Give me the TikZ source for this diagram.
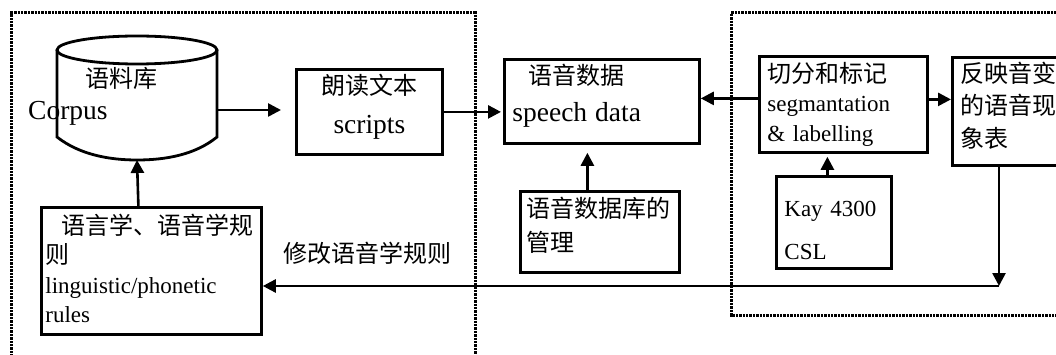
\documentclass[tikz,border=0pt]{standalone}
\usepackage{fontspec}
\setmainfont{Liberation Serif}
\newfontfamily\cjk{Noto Sans CJK SC}
\usetikzlibrary{arrows.meta}
\newcommand{\zh}{\cjk\fontsize{24}{32}\selectfont}
\newcommand{\enbig}{\fontsize{27.5}{33}\selectfont}
\newcommand{\ensmall}{\fontsize{23}{30}\selectfont}
\newcommand{\up}[1]{\rule{0pt}{#1pt}}
\newcommand{\down}[1]{\rule[-#1pt]{0pt}{0pt}}

\begin{document}
\begin{tikzpicture}[x=1pt,y=-1pt,
  >={Triangle[length=13pt,width=13pt]},
  box/.style={draw,line width=2.8pt,anchor=north west,inner xsep=8pt,inner ysep=0pt,align=left},
  arr/.style={->,line width=2.6pt},
  region/.style={line width=3pt,dash pattern=on 2.4pt off 1pt}]
\useasboundingbox (0,0) rectangle (1056,355);

% dotted regions
\draw[region] (11,360) -- (11,13) -- (475,13) -- (475,360);
\draw[region] (1060,13) -- (731,13) -- (731,315) -- (1060,315);

% corpus
\draw[line width=2.8pt] (137,50) ellipse (80 and 14);
\draw[line width=2.8pt] (57,50) -- (57,137) .. controls (80,155) and (110,160) .. (137,160)
  .. controls (165,160) and (195,155) .. (217,137) -- (217,50);
\node (corpuszh) at (121,78) {\zh 语料库};
\node[anchor=base west,inner sep=0pt] (corpusen) at (28,120) {\enbig Corpus};
\coordinate (corpusE) at (217,110);
\coordinate (corpusS) at (137,160);

% boxes
\node[box,align=center,minimum width=146,minimum height=85,text width=130,
  font=\fontsize{24}{39}\selectfont] (scripts) at (295,68)
  {{\zh\up{22}朗读文本\hspace*{12pt}}\\{\enbig\down{18}scripts\hspace*{10pt}}};
\node[box,minimum width=195,minimum height=84,text width=179,
  font=\fontsize{24}{37}\selectfont] (speech) at (503,58)
  {{\zh\up{22}\hspace*{16pt}语音数据}\\{\enbig\down{19}speech data}};
\node[box,inner xsep=6pt,minimum width=159,minimum height=81,text width=147,
  font=\fontsize{24}{34}\selectfont] (db) at (519,190)
  {{\zh\up{22}语音数据库的}\\{\zh\down{17}管理}};
\node[box,minimum width=168,minimum height=96,text width=152,
  font=\fontsize{23}{29.5}\selectfont] (seg) at (758,55)
  {{\zh\up{22}切分和标记}\\{\ensmall segmantation}\\{\ensmall\down{7}\& labelling}};
\node[box,minimum width=115,minimum height=92,text width=99,
  font=\fontsize{23}{43}\selectfont] (kay) at (775,175)
  {{\ensmall\up{31}Kay 4300}\\{\ensmall CSL}};
\node[box,minimum width=116,minimum height=108,text width=100,
  font=\fontsize{24}{32.5}\selectfont] (table) at (951,56)
  {{\zh\up{22}反映音变}\\{\zh 的语音现}\\{\zh\down{15}象表}};
\node[box,inner xsep=4pt,minimum width=220,minimum height=127,text width=212,
  font=\fontsize{23}{29.5}\selectfont] (ling) at (40,206)
  {{\zh\up{22}\hspace*{16pt}语言学、语音学规}\\{\zh 则}\\{\ensmall linguistic/phonetic}\\{\ensmall\down{6.5}rules}};
\node (fixlabel) at (367.5,253) {\zh 修改语音学规则};
\coordinate (turn) at (999,286);

% connectors
\draw[arr,shorten >=14pt] (corpusE) -- (corpusE -| scripts.west);
\draw[arr,shorten >=2pt] (scripts.east) -- (scripts.east -| speech.west);
\draw[arr] ([yshift=6pt]seg.west) -- ([yshift=6pt]seg.west -| speech.east);
\draw[arr,shorten >=8pt] ([xshift=-12.5pt]db.north) -- ([xshift=-12.5pt]db.north |- speech.south);
\draw[arr] ([yshift=5pt]seg.east) -- ([yshift=5pt]seg.east -| table.west);
\draw[arr,shorten >=3pt] ([xshift=-6.5pt]kay.north) -- ([xshift=-6.5pt]kay.north |- seg.south);
\draw[arr] ([xshift=-13pt]ling.north) -- (corpusS);
\draw[arr] (table.south -| turn) -- (turn);
\draw[arr] (turn) -- (ling.east |- turn);

\end{tikzpicture}
\end{document}
